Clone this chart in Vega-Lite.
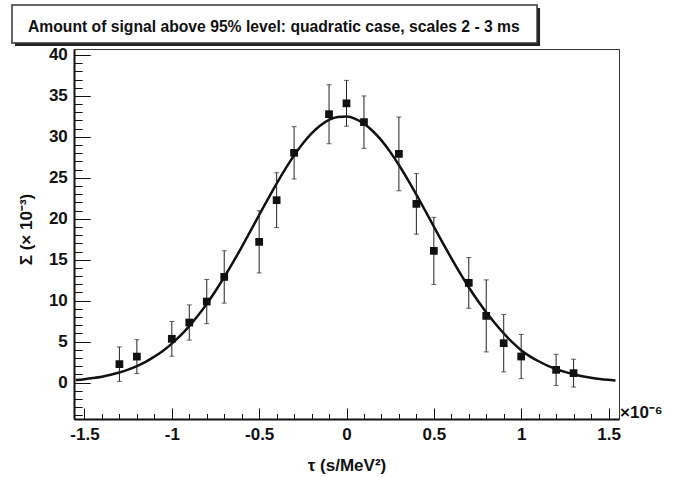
{
  "$schema": "https://vega.github.io/schema/vega-lite/v6.json",
  "width": 545,
  "height": 370,
  "autosize": {"type": "none"},
  "padding": {"left": 74, "top": 49, "right": 60, "bottom": 58},
  "background": "white",
  "config": {"view": {"stroke": "#333", "strokeWidth": 1}, "font": "Liberation Sans"},
  "title": {
    "text": "Amount of signal above 95% level: quadratic case, scales 2 - 3 ms",
    "anchor": "start",
    "frame": "group",
    "dx": -46,
    "offset": -43,
    "fontSize": 15.7,
    "fontWeight": "bold",
    "font": "Liberation Sans",
    "color": "#111",
    "baseline": "alphabetic",
    "zindex": 2
  },
  "datasets": {
    "points": [
      {"tau": -1.3, "sigma": 2.25, "lo": 0.15, "hi": 4.35},
      {"tau": -1.2, "sigma": 3.17, "lo": 1.1, "hi": 5.24},
      {"tau": -1.0, "sigma": 5.34, "lo": 3.22, "hi": 7.46},
      {"tau": -0.9, "sigma": 7.33, "lo": 5.18, "hi": 9.48},
      {"tau": -0.8, "sigma": 9.89, "lo": 7.19, "hi": 12.59},
      {"tau": -0.7, "sigma": 12.9, "lo": 9.7, "hi": 16.1},
      {"tau": -0.5, "sigma": 17.18, "lo": 13.38, "hi": 20.98},
      {"tau": -0.4, "sigma": 22.27, "lo": 18.92, "hi": 25.62},
      {"tau": -0.3, "sigma": 28.05, "lo": 24.85, "hi": 31.25},
      {"tau": -0.1, "sigma": 32.77, "lo": 29.17, "hi": 36.37},
      {"tau": 0.0, "sigma": 34.1, "lo": 31.3, "hi": 36.9},
      {"tau": 0.1, "sigma": 31.8, "lo": 28.6, "hi": 35.0},
      {"tau": 0.3, "sigma": 27.92, "lo": 23.42, "hi": 32.42},
      {"tau": 0.4, "sigma": 21.82, "lo": 18.12, "hi": 25.52},
      {"tau": 0.5, "sigma": 16.08, "lo": 11.98, "hi": 20.18},
      {"tau": 0.7, "sigma": 12.17, "lo": 9.07, "hi": 15.27},
      {"tau": 0.8, "sigma": 8.14, "lo": 3.74, "hi": 12.54},
      {"tau": 0.9, "sigma": 4.81, "lo": 1.31, "hi": 8.31},
      {"tau": 1.0, "sigma": 3.18, "lo": 0.48, "hi": 5.88},
      {"tau": 1.2, "sigma": 1.55, "lo": -0.35, "hi": 3.45},
      {"tau": 1.3, "sigma": 1.15, "lo": -0.55, "hi": 2.85}
    ],
    "fit": [
      {"tau": -1.55, "sigma": 0.30}, {"tau": -1.5, "sigma": 0.41}, {"tau": -1.45, "sigma": 0.55},
      {"tau": -1.4, "sigma": 0.72}, {"tau": -1.35, "sigma": 0.95}, {"tau": -1.3, "sigma": 1.23},
      {"tau": -1.25, "sigma": 1.58}, {"tau": -1.2, "sigma": 2.01}, {"tau": -1.15, "sigma": 2.53},
      {"tau": -1.1, "sigma": 3.16}, {"tau": -1.05, "sigma": 3.89}, {"tau": -1.0, "sigma": 4.76},
      {"tau": -0.95, "sigma": 5.76}, {"tau": -0.9, "sigma": 6.90}, {"tau": -0.85, "sigma": 8.18},
      {"tau": -0.8, "sigma": 9.61}, {"tau": -0.75, "sigma": 11.18}, {"tau": -0.7, "sigma": 12.87},
      {"tau": -0.65, "sigma": 14.67}, {"tau": -0.6, "sigma": 16.55}, {"tau": -0.55, "sigma": 18.50},
      {"tau": -0.5, "sigma": 20.46}, {"tau": -0.45, "sigma": 22.41}, {"tau": -0.4, "sigma": 24.30},
      {"tau": -0.35, "sigma": 26.09}, {"tau": -0.3, "sigma": 27.74}, {"tau": -0.25, "sigma": 29.19},
      {"tau": -0.2, "sigma": 30.42}, {"tau": -0.15, "sigma": 31.39}, {"tau": -0.1, "sigma": 32.07},
      {"tau": -0.05, "sigma": 32.43}, {"tau": 0.0, "sigma": 32.48}, {"tau": 0.05, "sigma": 32.20},
      {"tau": 0.1, "sigma": 31.61}, {"tau": 0.15, "sigma": 30.72}, {"tau": 0.2, "sigma": 29.57},
      {"tau": 0.25, "sigma": 28.17}, {"tau": 0.3, "sigma": 26.57}, {"tau": 0.35, "sigma": 24.81},
      {"tau": 0.4, "sigma": 22.94}, {"tau": 0.45, "sigma": 21.01}, {"tau": 0.5, "sigma": 19.04},
      {"tau": 0.55, "sigma": 17.09}, {"tau": 0.6, "sigma": 15.19}, {"tau": 0.65, "sigma": 13.36},
      {"tau": 0.7, "sigma": 11.64}, {"tau": 0.75, "sigma": 10.04}, {"tau": 0.8, "sigma": 8.57},
      {"tau": 0.85, "sigma": 7.24}, {"tau": 0.9, "sigma": 6.0}, {"tau": 0.95, "sigma": 4.9},
      {"tau": 1.0, "sigma": 3.95}, {"tau": 1.05, "sigma": 3.2}, {"tau": 1.1, "sigma": 2.6},
      {"tau": 1.15, "sigma": 2.08}, {"tau": 1.2, "sigma": 1.65}, {"tau": 1.25, "sigma": 1.30},
      {"tau": 1.3, "sigma": 1.01}, {"tau": 1.35, "sigma": 0.78}, {"tau": 1.4, "sigma": 0.59},
      {"tau": 1.45, "sigma": 0.44}, {"tau": 1.5, "sigma": 0.33}, {"tau": 1.54, "sigma": 0.26}
    ]
  },
  "layer": [
    {
      "data": {"values": [{}]},
      "mark": {"type": "rect", "fill": "#222", "clip": false},
      "encoding": {
        "x": {"datum": -1.898, "type": "quantitative", "scale": {"domain": [-1.56, 1.56], "nice": false, "zero": false}, "axis": null},
        "x2": {"datum": 1.108},
        "y": {"datum": 41.1, "type": "quantitative", "scale": {"domain": [-4.45, 40.73], "nice": false, "zero": false}, "axis": null},
        "y2": {"datum": 45.74}
      }
    },
    {
      "data": {"values": [{}]},
      "mark": {"type": "rect", "fill": "white", "stroke": "#333", "strokeWidth": 1.5, "clip": false},
      "encoding": {
        "x": {"datum": -1.915, "type": "quantitative", "axis": null},
        "x2": {"datum": 1.091},
        "y": {"datum": 41.46, "type": "quantitative", "axis": null},
        "y2": {"datum": 46.1}
      }
    },
    {
      "data": {"name": "fit"},
      "mark": {"type": "line", "color": "#111", "strokeWidth": 2.5, "interpolate": "monotone"},
      "encoding": {
        "x": {
          "field": "tau", "type": "quantitative",
          "scale": {"domain": [-1.56, 1.56], "nice": false, "zero": false},
          "axis": {
            "orient": "bottom",
            "values": [-1.5, -1, -0.5, 0, 0.5, 1, 1.5],
            "labelExpr": "datum.value + ''",
            "tickSize": -11, "tickColor": "#111", "tickWidth": 1,
            "labelPadding": 18, "labelFontSize": 17, "labelFontWeight": "bold", "labelColor": "#111",
            "labelFont": "Liberation Sans", "labelFlush": false, "labelOverlap": false,
            "domainColor": "#111", "domainWidth": 2, "grid": false,
            "title": "τ (s/MeV²)", "titleFontSize": 17, "titleFontWeight": "bold", "titleColor": "#111",
            "titleFont": "Liberation Sans",
            "titleX": 272.5, "titleY": 46, "titleBaseline": "middle", "titleAlign": "center"
          }
        },
        "y": {
          "field": "sigma", "type": "quantitative",
          "scale": {"domain": [-4.45, 40.73], "nice": false, "zero": false},
          "axis": {
            "orient": "left",
            "values": [0, 5, 10, 15, 20, 25, 30, 35, 40],
            "labelExpr": "datum.value + ''",
            "tickSize": -16.3, "tickColor": "#111", "tickWidth": 1,
            "labelPadding": 23, "labelFontSize": 17, "labelFontWeight": "bold", "labelColor": "#111",
            "labelFont": "Liberation Sans", "labelFlush": false, "labelOverlap": false,
            "domainColor": "#111", "domainWidth": 2, "grid": false,
            "title": "Σ (× 10⁻³)", "titleFontSize": 17, "titleFontWeight": "bold", "titleColor": "#111",
            "titleFont": "Liberation Sans", "titleAngle": -90,
            "titleX": -47.5, "titleY": 180, "titleBaseline": "middle", "titleAlign": "center"
          }
        }
      }
    },
    {
      "data": {"name": "points"},
      "mark": {"type": "rule", "color": "#222", "strokeWidth": 1},
      "encoding": {
        "x": {
          "field": "tau", "type": "quantitative",
          "axis": {
            "orient": "bottom",
            "values": [-1.5, -1.4, -1.3, -1.2, -1.1, -1.0, -0.9, -0.8, -0.7, -0.6, -0.5, -0.4, -0.3, -0.2, -0.1, 0, 0.1, 0.2, 0.3, 0.4, 0.5, 0.6, 0.7, 0.8, 0.9, 1.0, 1.1, 1.2, 1.3, 1.4, 1.5],
            "tickSize": -5.5, "tickColor": "#111", "tickWidth": 1,
            "labels": false, "domain": false, "grid": false, "title": null
          }
        },
        "y": {
          "field": "lo", "type": "quantitative",
          "axis": {
            "orient": "left",
            "values": [-4, -3, -2, -1, 0, 1, 2, 3, 4, 5, 6, 7, 8, 9, 10, 11, 12, 13, 14, 15, 16, 17, 18, 19, 20, 21, 22, 23, 24, 25, 26, 27, 28, 29, 30, 31, 32, 33, 34, 35, 36, 37, 38, 39, 40],
            "tickSize": -8.2, "tickColor": "#111", "tickWidth": 1,
            "labels": false, "domain": false, "grid": false, "title": null
          }
        },
        "y2": {"field": "hi"}
      }
    },
    {
      "data": {"name": "points"},
      "mark": {"type": "tick", "orient": "horizontal", "color": "#222", "size": 5, "thickness": 1},
      "encoding": {
        "x": {"field": "tau", "type": "quantitative", "axis": null},
        "y": {"field": "lo", "type": "quantitative", "axis": null}
      }
    },
    {
      "data": {"name": "points"},
      "mark": {"type": "tick", "orient": "horizontal", "color": "#222", "size": 5, "thickness": 1},
      "encoding": {
        "x": {"field": "tau", "type": "quantitative", "axis": null},
        "y": {"field": "hi", "type": "quantitative", "axis": null}
      }
    },
    {
      "data": {"name": "points"},
      "mark": {"type": "square", "color": "#111", "size": 60, "filled": true, "opacity": 1},
      "encoding": {
        "x": {"field": "tau", "type": "quantitative", "axis": null},
        "y": {"field": "sigma", "type": "quantitative", "axis": null}
      }
    },
    {
      "data": {"values": [{}]},
      "mark": {"type": "text", "text": "×10⁻⁶", "align": "left", "baseline": "alphabetic", "dx": 1, "dy": -1, "fontSize": 17, "fontWeight": "bold", "font": "Liberation Sans", "color": "#111", "clip": false},
      "encoding": {
        "x": {"datum": 1.56, "type": "quantitative", "axis": null},
        "y": {"datum": -4.45, "type": "quantitative", "axis": null}
      }
    }
  ],
  "resolve": {"axis": {"x": "independent", "y": "independent"}}
}
